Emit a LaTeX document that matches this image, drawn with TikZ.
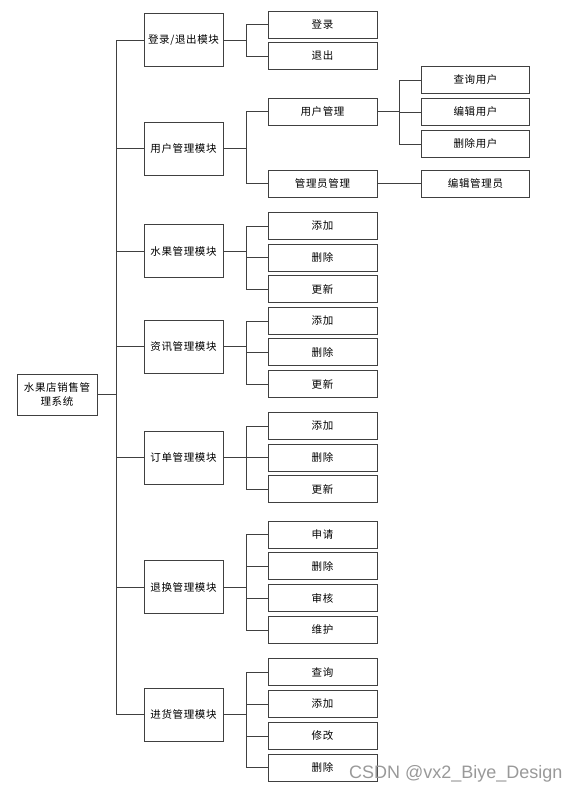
\documentclass[tikz,border=0pt]{standalone}
\usepackage{fontspec}
\newfontfamily\cjk[LetterSpace=6]{Noto Sans CJK SC}
\newfontfamily\wmfont{Liberation Sans}

\begin{document}
\begin{tikzpicture}[x=1pt, y=-1pt,
    box/.style={draw=black!75, line width=0.9pt, align=center, inner sep=0pt,
                font=\cjk\fontsize{10.5}{14.5}\selectfont},
    modbox/.style={box, minimum width=79pt, minimum height=53pt},
    leaf/.style={box, minimum width=109pt, minimum height=27pt},
    link/.style={draw=black!75, line width=0.9pt}
]
\useasboundingbox (0,0) rectangle (581,794);

% root
\node[box, minimum width=80pt, minimum height=41pt] (sys) at (57,394.5) {水果店销售管\\理系统};

% modules
\node[modbox] (mlog)   at (183.5,40)    {登录/退出模块};
\node[modbox] (muser)  at (183.5,148.5) {用户管理模块};
\node[modbox] (mfruit) at (183.5,251)   {水果管理模块};
\node[modbox] (mnews)  at (183.5,346.5) {资讯管理模块};
\node[modbox] (morder) at (183.5,457.5) {订单管理模块};
\node[modbox] (mret)   at (183.5,587)   {退换管理模块};
\node[modbox] (mstock) at (183.5,714.5) {进货管理模块};

% leaves
\node[leaf] (login)  at (322.5,24.5)  {登录};
\node[leaf] (logout) at (322.5,56)    {退出};
\node[leaf] (usrmgr) at (322.5,111.5) {用户管理};
\node[leaf] (admmgr) at (322.5,183.5) {管理员管理};
\node[leaf] (fadd)   at (322.5,226)   {添加};
\node[leaf] (fdel)   at (322.5,257.5) {删除};
\node[leaf] (fupd)   at (322.5,289)   {更新};
\node[leaf] (nadd)   at (322.5,321)   {添加};
\node[leaf] (ndel)   at (322.5,352)   {删除};
\node[leaf] (nupd)   at (322.5,384)   {更新};
\node[leaf] (oadd)   at (322.5,426)   {添加};
\node[leaf] (odel)   at (322.5,457.5) {删除};
\node[leaf] (oupd)   at (322.5,489)   {更新};
\node[leaf] (rapp)   at (322.5,534.5) {申请};
\node[leaf] (rdel)   at (322.5,566)   {删除};
\node[leaf] (raud)   at (322.5,598)   {审核};
\node[leaf] (rmnt)   at (322.5,630)   {维护};
\node[leaf] (sqry)   at (322.5,672)   {查询};
\node[leaf] (sadd)   at (322.5,704)   {添加};
\node[leaf] (smod)   at (322.5,736)   {修改};
\node[leaf] (sdel)   at (322.5,767.5) {删除};

% user sub-leaves
\node[leaf, minimum width=108.5pt] (qryusr)  at (475.5,80)    {查询用户};
\node[leaf, minimum width=108.5pt] (editusr) at (475.5,112)   {编辑用户};
\node[leaf, minimum width=108.5pt] (delusr)  at (475.5,144)   {删除用户};
\node[leaf, minimum width=108.5pt] (editadm) at (475.5,183.5) {编辑管理员};

% connectors
\foreach \m in {mlog,muser,mfruit,mnews,morder,mret,mstock}
    \draw[link] (sys.east) -- ++(19,0) |- (\m.west);
\foreach \a/\b in {mlog/login, mlog/logout, muser/usrmgr, muser/admmgr,
                   mfruit/fadd, mfruit/fdel, mfruit/fupd,
                   mnews/nadd, mnews/ndel, mnews/nupd,
                   morder/oadd, morder/odel, morder/oupd,
                   mret/rapp, mret/rdel, mret/raud, mret/rmnt,
                   mstock/sqry, mstock/sadd, mstock/smod, mstock/sdel}
    \draw[link] (\a.east) -- ++(23,0) |- (\b.west);
\foreach \b in {qryusr,editusr,delusr}
    \draw[link] (usrmgr.east) -- ++(22,0) |- (\b.west);
\draw[link] (admmgr.east) -- (editadm.west);

% watermark
\node[anchor=base west, inner sep=0pt, text=black!40, font=\wmfont\fontsize{18}{20}\selectfont]
    (mark) at (349,778.5) {CSDN @vx2\_Biye\_Design};
\end{tikzpicture}
\end{document}
